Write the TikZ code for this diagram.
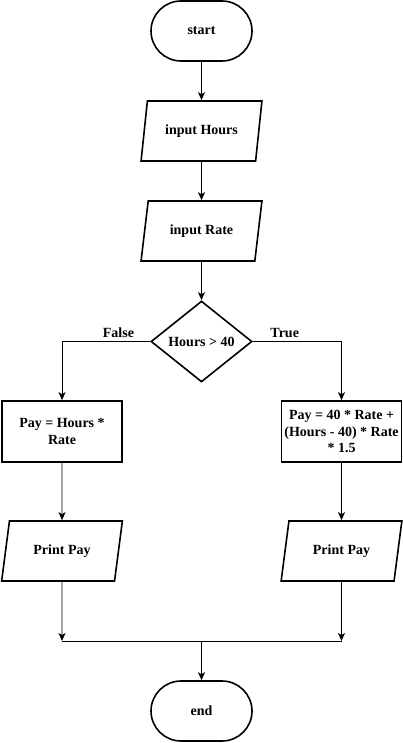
\documentclass[tikz,border=0pt]{standalone}
\usepackage{fontspec}
\setmainfont{Liberation Serif}
\usetikzlibrary{shapes.geometric,shapes.misc,arrows.meta}
\begin{document}
\begin{tikzpicture}[x=1pt,y=-1pt,
  every node/.style={font=\bfseries\fontsize{14}{16.5}\selectfont, align=center, inner sep=0pt},
  shp/.style={draw, line width=1.6pt, line join=miter},
  term/.style={shp, rounded rectangle, minimum width=101pt, minimum height=60pt},
  io/.style={shp, trapezium, trapezium left angle=71.57, trapezium right angle=108.43, trapezium stretches=true, minimum width=121pt, minimum height=60pt},
  proc/.style={shp, rectangle, minimum width=120pt, minimum height=61pt},
  dec/.style={shp, diamond, minimum width=101pt, minimum height=81pt},
  conn/.style={line width=0.9pt, -{Stealth[length=8pt,width=7pt,inset=2pt]}},
  lbl/.style={font=\bfseries\fontsize{14}{16}\selectfont}
]
\useasboundingbox (0,0) rectangle (403,743);
\node[term] (start) at (201.5,31) {start};
\node[io] (inH) at (201.5,131) {input Hours};
\node[io] (inR) at (201.5,231) {input Rate};
\node[dec] (cond) at (201.5,341.5) {Hours > 40};
\node[proc] (payL) at (62,431.5) {Pay = Hours {*}\\Rate};
\node[proc] (payR) at (341.5,431.5) {Pay = 40 {*} Rate +\\(Hours - 40) {*} Rate\\{*} 1.5};
\node[io] (prL) at (62,551) {Print Pay};
\node[io] (prR) at (341.5,551) {Print Pay};
\coordinate (jL) at (62,641);
\coordinate (jR) at (341.5,641);
\coordinate (jM) at (201.5,641);
\node[term] (end) at (201.5,711) {end};

\draw[conn] (start) -- (inH);
\draw[conn] (inH) -- (inR);
\draw[conn] (inR) -- (cond);
\draw[conn] (cond.west) -- node[lbl, above=3pt, pos=0.36] (fl) {False} (payL.north |- cond.west) -- (payL.north);
\draw[conn] (cond.east) -- node[lbl, above=3pt, pos=0.36] (tl) {True} (payR.north |- cond.east) -- (payR.north);
\draw[conn] (payL) -- (prL);
\draw[conn] (payR) -- (prR);
\draw[conn] (prL.south) -- (jL);
\draw[conn] (prR.south) -- (jR);
\draw[line width=0.9pt] (jL) -- (jR);
\draw[conn] (jM) -- (end);
\end{tikzpicture}
\end{document}
